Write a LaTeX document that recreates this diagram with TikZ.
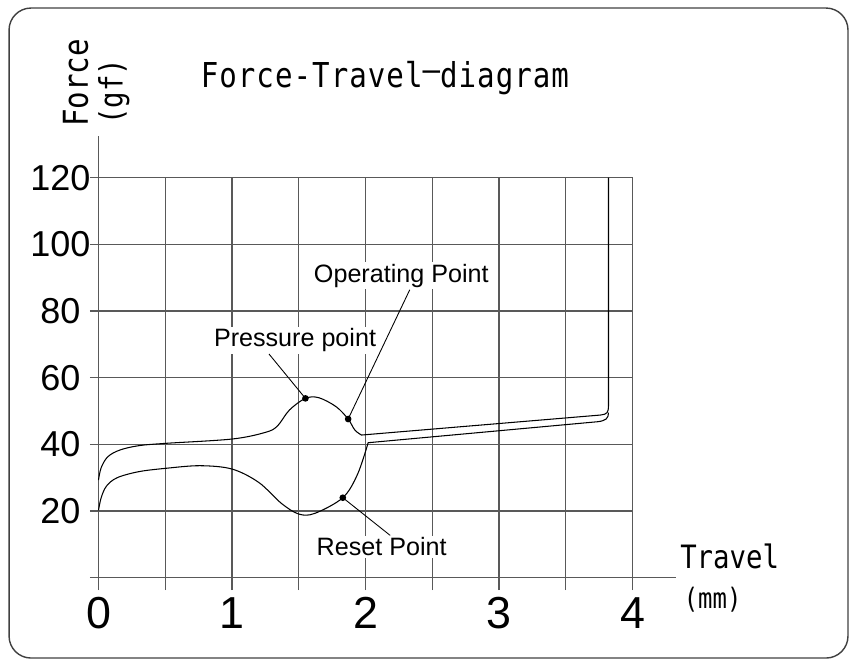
\documentclass[tikz,border=0pt]{standalone}
\usepackage{fontspec}
\setmainfont{Liberation Sans}
\newfontfamily\cadfont[FakeStretch=0.85]{DejaVu Sans Mono}

\begin{document}
\begin{tikzpicture}[x = 2.67cm, y = 0.0666667cm,
	gridline/.style = {black!65, line width = 0.7pt},
	curve/.style = {black, line width = 0.6pt},
	callout/.style = {font = \fontsize{14.3}{17}\selectfont, anchor = base, fill = white, inner sep = 1pt},
	leader/.style = {black, line width = 0.5pt},
	cad/.style = {font = \cadfont\fontsize{18.3}{22}\selectfont}]

	\useasboundingbox (-0.7378, -26.49) rectangle (5.689, 173.31);

	% Frame

	\draw [black!75, line width = 0.8pt, rounded corners = 0.44cm] (-0.670, -24.1) rectangle (5.614, 170.9);

	% Grid + axes

	\foreach \x in {0.5, 1, ..., 4}
		\draw [gridline] (\x, -3.7) -- (\x, 120);

	\foreach \y in {20, 40, ..., 120} {
		\draw [gridline] (-0.064, \y) -- (4, \y);
		\node [font = \fontsize{20.5}{24}\selectfont] at (-0.285, \y) {\y};
	}

	\draw [gridline] (-0.064, 0) -- (4.326, 0);
	\draw [gridline] (0, -3.7) -- (0, 132.5);

	\foreach \x in {0, ..., 4}
		\node [font = \fontsize{25.5}{30}\selectfont, anchor = base] at (\x, -15.2) {\x};

	% Titles

	\node [cad, anchor = base west, font = \cadfont\fontsize{19.5}{23}\selectfont] (title) at (0.72, 147.2) {\addfontfeature{LetterSpace=3}Force-Travel\raisebox{0.17em}{–}diagram};
	\node [cad, anchor = base west, rotate = 90, font = \cadfont\fontsize{19.5}{23}\selectfont] (forcelabel) at (-0.079, 133.4) {Force};
	\node [cad, anchor = base west, rotate = 90] (gflabel) at (0.18, 134) {(gf)};
	\node [cad, anchor = base west] (travellabel) at (4.311, 2.8) {Travel};
	\node [cad, anchor = base west, font = \cadfont\fontsize{16}{19}\selectfont] (mmlabel) at (4.338, -9.1) {(mm)};

	% Curves

	\draw [curve] plot [smooth, tension = 0.55] coordinates {(0, 29.3) (0.02, 33) (0.07, 36.3) (0.16, 38.3) (0.3, 39.6) (0.5, 40.3) (1, 41.6) (1.25, 43.6) (1.34, 45.5) (1.43, 50.3) (1.55, 53.8) (1.65, 54) (1.78, 51.3) (1.87, 47.6) (1.92, 44.3) (1.97, 42.8)}
		-- (3.76, 48.8) .. controls (3.81, 49) and (3.82, 49.6) .. (3.82, 51.5) -- (3.82, 120);

	\draw [curve] plot [smooth, tension = 0.55] coordinates {(0, 20.2) (0.02, 24) (0.06, 27.5) (0.14, 30) (0.3, 31.8) (0.5, 32.8) (0.76, 33.6) (1, 32.6) (1.2, 28.6) (1.37, 22.3) (1.5, 19.1) (1.62, 19.3) (1.83, 24) (1.94, 31) (2.02, 40.5)}
		-- (3.74, 46.8) .. controls (3.8, 47.1) and (3.82, 47.8) .. (3.82, 49.5);

	% Points

	\coordinate (pressure) at (1.55, 53.8);
	\coordinate (operating) at (1.87, 47.6);
	\coordinate (reset) at (1.83, 24);

	\foreach \p in {pressure, operating, reset}
		\fill (\p) circle (1.9pt);

	\node [callout] (pressurelabel) at (1.472, 69.3) {Pressure point};
	\node [callout] (operatinglabel) at (2.268, 88.6) {Operating Point};
	\node [callout] (resetlabel) at (2.121, 6.6) {Reset Point};

	\draw [leader] ([xshift = -0.52cm] pressurelabel.south) -- (pressure);
	\draw [leader] ([xshift = 0.17cm] operatinglabel.south) -- (operating);
	\draw [leader] (reset) -- ([xshift = 0.17cm] resetlabel.north);

\end{tikzpicture}
\end{document}
